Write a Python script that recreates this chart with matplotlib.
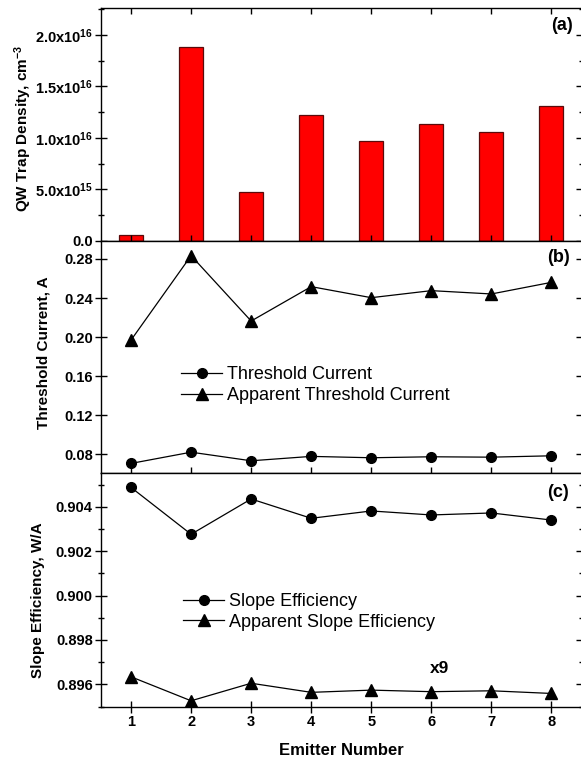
import matplotlib
matplotlib.use("Agg")
import matplotlib.pyplot as plt
from matplotlib.ticker import FixedLocator

plt.rcParams['font.family'] = ['Liberation Sans', 'DejaVu Sans']
plt.rcParams['mathtext.fontset'] = 'custom'
plt.rcParams['mathtext.rm'] = 'Liberation Sans'
plt.rcParams['mathtext.bf'] = 'Liberation Sans:bold'
plt.rcParams['mathtext.it'] = 'Liberation Sans:italic'

# ---- data ----
emitters = [1, 2, 3, 4, 5, 6, 7, 8]
trap_density = [5.8e14, 1.883e16, 4.8e15, 1.223e16, 9.74e15, 1.133e16, 1.055e16, 1.314e16]
threshold_current = [0.0708, 0.0823, 0.0735, 0.0780, 0.0766, 0.0776, 0.0772, 0.0786]
apparent_threshold = [0.197, 0.2834, 0.2165, 0.2517, 0.2404, 0.2476, 0.2442, 0.2561]
slope_eff = [0.90487, 0.90276, 0.90435, 0.90348, 0.90381, 0.90363, 0.90372, 0.90340]
apparent_slope = [0.89634, 0.89526, 0.89605, 0.89564, 0.89574, 0.89567, 0.89571, 0.89559]

trap_ticks = [0, 5e15, 1e16, 1.5e16, 2e16]
trap_ticklabels = ['0.0', r'$\mathbf{5.0x10^{15}}$', r'$\mathbf{1.0x10^{16}}$',
                   r'$\mathbf{1.5x10^{16}}$', r'$\mathbf{2.0x10^{16}}$']

W, H = 581, 761
fig = plt.figure(figsize=(W / 100, H / 100), dpi=100)

left = 101 / W
width = 480.5 / W
axa = fig.add_axes([left, 1 - 241 / H, width, 233 / H])
axb = fig.add_axes([left, 1 - 473 / H, width, 232 / H])
axc = fig.add_axes([left, 1 - 707 / H, width, 234 / H])

tick_fs = 10.5
for ax in (axa, axb, axc):
    ax.set_xlim(0.5, 8.5)
    ax.set_xticks(emitters)
    for sp in ax.spines.values():
        sp.set_linewidth(1.0)
    ax.tick_params(axis='y', which='major', direction='inout', length=8, width=1.0,
                   labelsize=tick_fs, pad=2)
    ax.tick_params(axis='y', which='minor', direction='inout', length=4, width=1.0)
    ax.tick_params(axis='y', which='both', right=True)

# ---- (a) ----
axa.bar(emitters, trap_density, width=0.4, color='#ff0000', edgecolor='#5a0a0a',
        linewidth=0.9, zorder=1)
axa.set_ylim(0, 2.262e16)
axa.set_yticks(trap_ticks)
axa.set_yticklabels(trap_ticklabels, fontweight='bold', fontsize=tick_fs)
axa.yaxis.set_minor_locator(FixedLocator([2.5e15, 7.5e15, 1.25e16, 1.75e16, 2.25e16]))
axa.tick_params(axis='x', which='both', direction='in', top=True, bottom=True,
                labelbottom=False, length=4, width=1.0)
axa.set_ylabel(r'QW Trap Density, cm$^{\mathbf{-3}}$', fontsize=11, fontweight='bold')
axa.yaxis.set_label_coords(-0.140, 0.485)
axa.text(0.982, 0.923, '(a)', transform=axa.transAxes, ha='right', va='center',
         fontsize=13, fontweight='bold')

# ---- (b) ----
axb.plot(emitters, threshold_current, '-o', color='black', lw=0.9, ms=7,
         label='Threshold Current')
axb.plot(emitters, apparent_threshold, '-^', color='black', lw=0.9, ms=8.5,
         label='Apparent Threshold Current')
axb.set_ylim(0.061, 0.2984)
axb.set_yticks([0.08, 0.12, 0.16, 0.20, 0.24, 0.28])
axb.set_yticklabels(['0.08', '0.12', '0.16', '0.20', '0.24', '0.28'],
                    fontweight='bold', fontsize=tick_fs)
axb.tick_params(axis='x', which='both', direction='in', top=False, bottom=True,
                labelbottom=False, length=4, width=1.0)
axb.set_ylabel('Threshold Current, A', fontsize=11, fontweight='bold')
axb.yaxis.set_label_coords(-0.106, 0.52)
axb.text(0.976, 0.931, '(b)', transform=axb.transAxes, ha='right', va='center',
         fontsize=13, fontweight='bold')
axb.legend(loc='center left', bbox_to_anchor=(0.1667, 0.378), frameon=False,
           fontsize=13, borderpad=0, borderaxespad=0, handlelength=2.28,
           handletextpad=0.28, labelspacing=0.2, numpoints=1)

# ---- (c) ----
axc.plot(emitters, slope_eff, '-o', color='black', lw=0.9, ms=7,
         label='Slope Efficiency')
axc.plot(emitters, apparent_slope, '-^', color='black', lw=0.9, ms=8.5,
         label='Apparent Slope Efficiency')
axc.set_ylim(0.89498, 0.90552)
axc.set_yticks([0.896, 0.898, 0.900, 0.902, 0.904])
axc.set_yticklabels(['0.896', '0.898', '0.900', '0.902', '0.904'],
                    fontweight='bold', fontsize=tick_fs)
axc.yaxis.set_minor_locator(FixedLocator([0.895, 0.897, 0.899, 0.901, 0.903, 0.905]))
axc.tick_params(axis='x', which='both', direction='inout', top=False, bottom=True,
                length=8, width=1.0, labelsize=tick_fs, pad=2)
axc.set_xticklabels([str(e) for e in emitters], fontweight='bold', fontsize=tick_fs)
axc.set_ylabel('Slope Efficiency, W/A', fontsize=11, fontweight='bold')
axc.yaxis.set_label_coords(-0.116, 0.457)
axc.set_xlabel('Emitter Number', fontsize=12, fontweight='bold', labelpad=10)
axc.text(0.974, 0.915, '(c)', transform=axc.transAxes, ha='right', va='center',
         fontsize=13, fontweight='bold')
axc.text(6.13, 0.89673, 'x9', ha='center', va='center', fontsize=12.5, fontweight='bold')
axc.legend(loc='center left', bbox_to_anchor=(0.171, 0.407), frameon=False,
           fontsize=13, borderpad=0, borderaxespad=0, handlelength=2.28,
           handletextpad=0.28, labelspacing=0.2, numpoints=1)

fig.savefig('out.png', dpi=100)
